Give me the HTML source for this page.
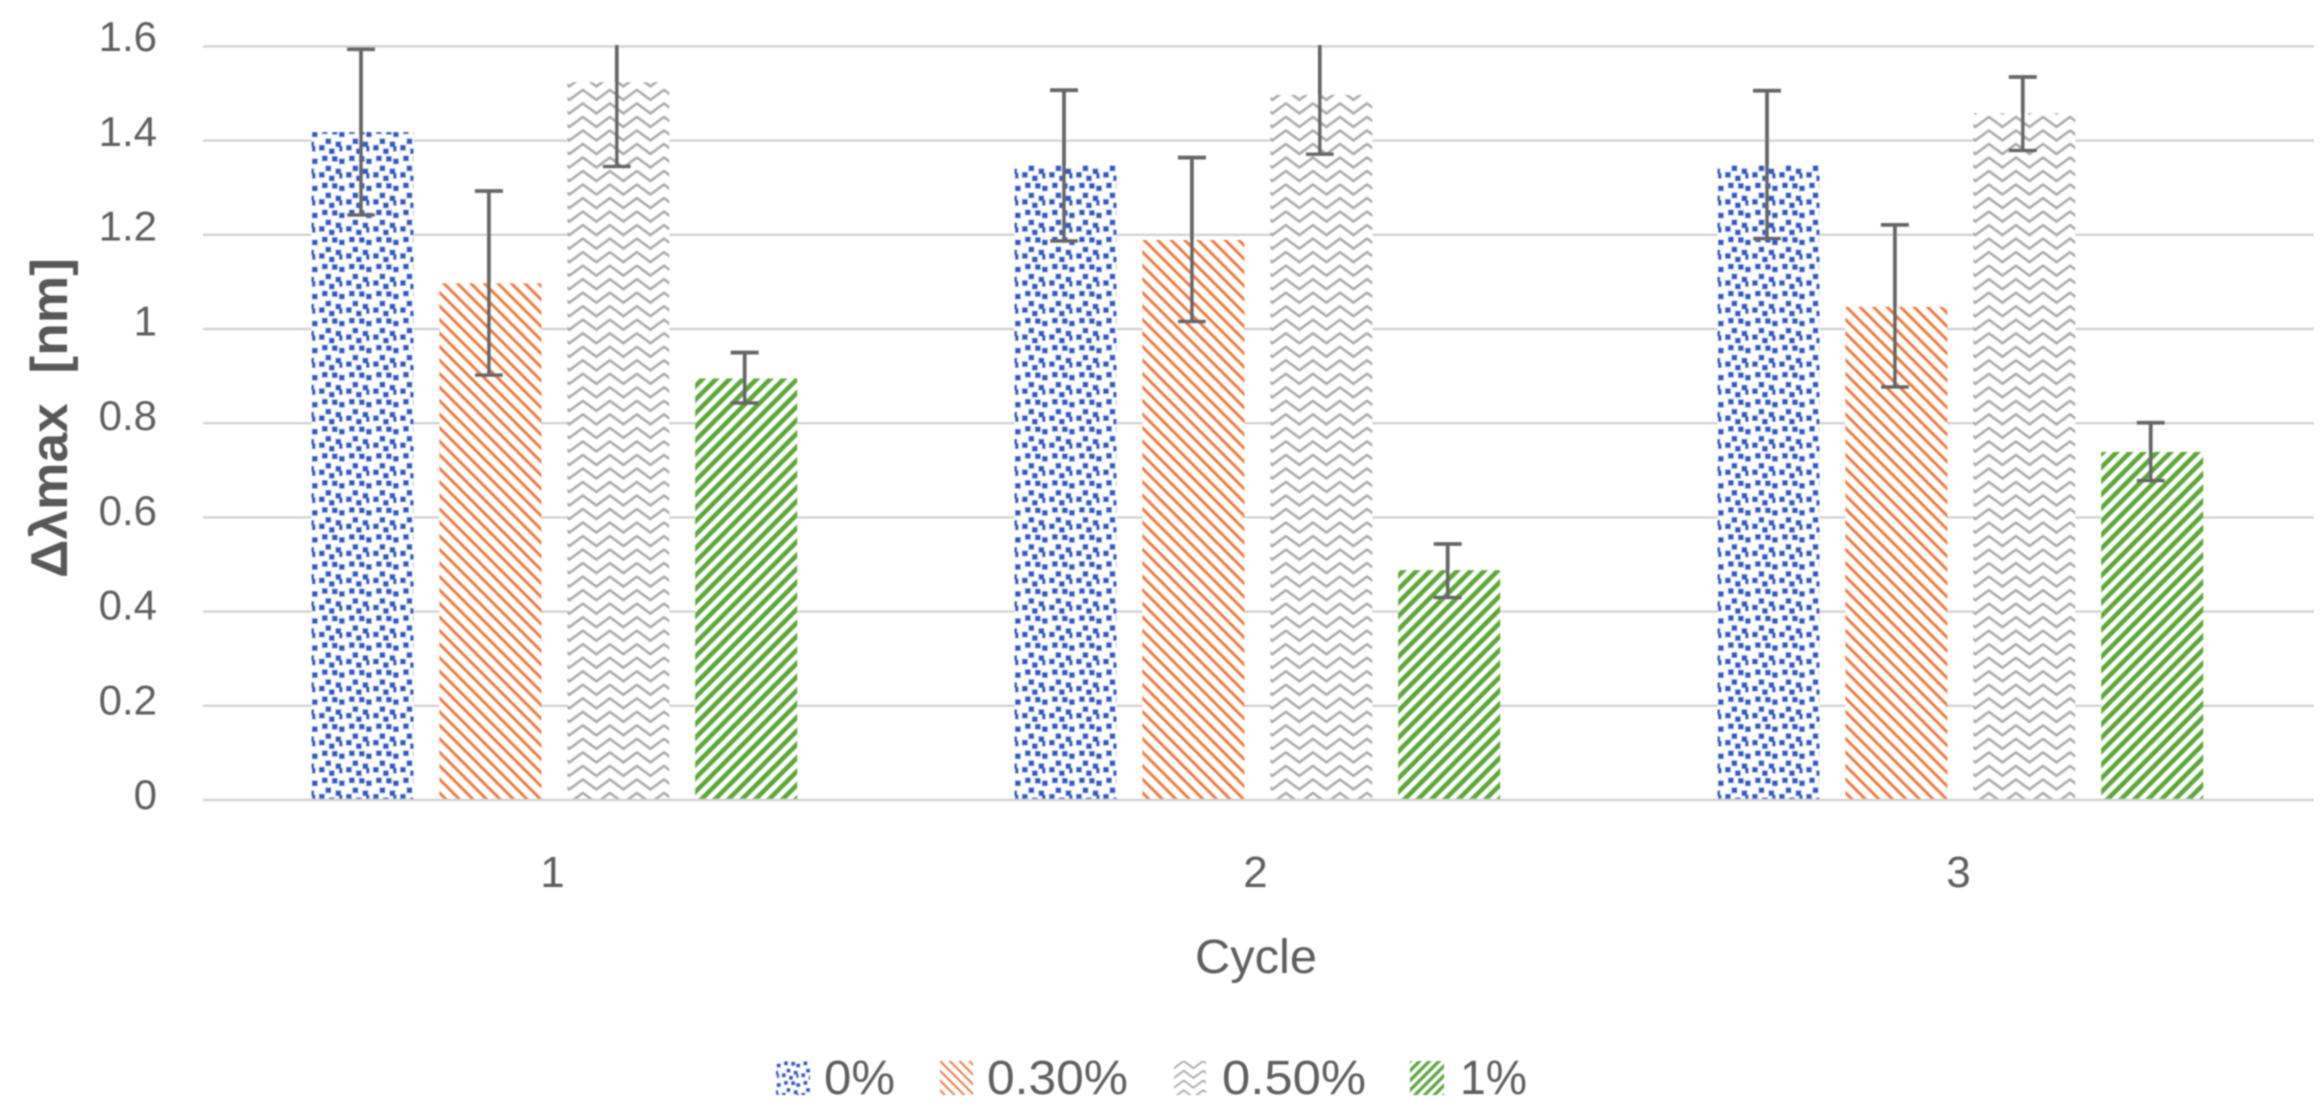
<!DOCTYPE html>
<html lang="en">
<head>
<meta charset="utf-8">
<title>Δλmax by cycle</title>
<style>
html,body{margin:0;padding:0;background:#fff;width:2324px;height:1120px;overflow:hidden}
svg{display:block}
text{font-family:"Liberation Sans",sans-serif;fill:#5f5f5f}
</style>
</head>
<body>
<svg id="chart" xmlns="http://www.w3.org/2000/svg" width="2324" height="1120" viewBox="0 0 2324 1120">
  <defs>
    <filter id="soft" x="0" y="0" width="100%" height="100%"><feGaussianBlur stdDeviation="0.8"/></filter>
    <clipPath id="plot-clip"><rect x="150" y="45" width="2174" height="800"/></clipPath>

    <pattern id="pat-blue" patternUnits="userSpaceOnUse" width="27.04" height="27.04" patternTransform="translate(311 128)">
      <rect width="27.04" height="27.04" fill="#fff"/>
      <g fill="#2a5cc6">
        <rect x="1" y="3.5" width="5.6" height="5.6"/>
        <rect x="11" y="0.5" width="5.6" height="5.6"/>
        <rect x="21" y="1" width="5.6" height="5.6"/>
        <rect x="14.5" y="10.5" width="5.6" height="5.6"/>
        <rect x="24.5" y="13.5" width="5.6" height="5.6"/>
        <rect x="-2.5" y="13.5" width="5.6" height="5.6"/>
        <rect x="8" y="17" width="5.6" height="5.6"/>
        <rect x="1" y="18" width="3.5" height="5.6"/>
        <rect x="18" y="20.5" width="5.6" height="5.6"/>
      </g>
    </pattern>
    <pattern id="pat-orange" patternUnits="userSpaceOnUse" width="13.52" height="13.52" patternTransform="translate(414 240)">
      <rect width="13.52" height="13.52" fill="#fff"/>
      <path d="M-2,-2 L15.52,15.52 M-2,11.52 L2,15.52 M11.52,-2 L15.52,2" stroke="#ed7d31" stroke-width="3.2" fill="none"/>
    </pattern>
    <pattern id="pat-gray" patternUnits="userSpaceOnUse" width="27.04" height="13.52" patternTransform="translate(1.48 8.8)">
      <rect width="27.04" height="13.52" fill="#fff"/>
      <g fill="none" stroke="#acacac" stroke-width="2.8" stroke-linejoin="round">
        <path d="M-3,12 L0,10 L13.52,0 L27.04,10 L30,12"/>
        <path transform="translate(0 -13.52)" d="M-3,12 L0,10 L13.52,0 L27.04,10 L30,12"/>
        <path transform="translate(0 13.52)" d="M-3,12 L0,10 L13.52,0 L27.04,10 L30,12"/>
      </g>
    </pattern>
    <pattern id="pat-green" patternUnits="userSpaceOnUse" width="13.52" height="13.52">
      <rect width="13.52" height="13.52" fill="#fff"/>
      <path d="M-2,15.52 L15.52,-2 M-2,2 L2,-2 M11.52,15.52 L15.52,11.52" stroke="#5aaa32" stroke-width="5" fill="none"/>
    </pattern>

    <pattern id="leg-blue" href="#pat-blue" patternTransform="translate(776 1061) scale(0.72)"/>
    <pattern id="leg-orange" href="#pat-orange" patternTransform="translate(940 1061) scale(0.72)"/>
    <pattern id="leg-gray" href="#pat-gray" patternTransform="translate(1174 1061) scale(0.72)"/>
    <pattern id="leg-green" href="#pat-green" patternTransform="translate(1410 1061) scale(0.72)"/>
  </defs>

  <g id="root" filter="url(#soft)">
    <g id="grid"></g>
    <g id="ylabels"></g>
    <g id="bars"></g>
    <line x1="203" x2="2314" y1="800" y2="800" stroke="#d2d2d2" stroke-width="2.6"/>
    <g id="errors" clip-path="url(#plot-clip)"></g>
    <g id="xlabels"></g>

    <text transform="translate(67 578) rotate(-90)" font-size="52" font-weight="bold" textLength="320" lengthAdjust="spacingAndGlyphs" style="white-space:pre;fill:#595959">Δλmax  [nm]</text>
    <text x="1195" y="973" font-size="48" textLength="122" lengthAdjust="spacingAndGlyphs">Cycle</text>

    <g>
      <g>
        <rect x="776" y="1061" width="34" height="34" fill="url(#leg-blue)"/>
        <text x="824" y="1094" font-size="48" textLength="71" lengthAdjust="spacingAndGlyphs">0%</text>
      </g>
      <g>
        <rect x="940" y="1061" width="33" height="34" fill="url(#leg-orange)"/>
        <text x="987" y="1094" font-size="48" textLength="141" lengthAdjust="spacingAndGlyphs">0.30%</text>
      </g>
      <g>
        <rect x="1174" y="1061" width="32" height="34" fill="url(#leg-gray)"/>
        <text x="1222" y="1094" font-size="48" textLength="144" lengthAdjust="spacingAndGlyphs">0.50%</text>
      </g>
      <g>
        <rect x="1410" y="1061" width="34" height="34" fill="url(#leg-green)"/>
        <text x="1460" y="1094" font-size="48" textLength="67" lengthAdjust="spacingAndGlyphs">1%</text>
      </g>
    </g>
  </g>
</svg>

<script>
const categories = ['1', '2', '3'];
const seriesNames = ['0%', '0.30%', '0.50%', '1%'];
const yTicks = [0, 0.2, 0.4, 0.6, 0.8, 1, 1.2, 1.4, 1.6];
const yTickLabels = ['0', '0.2', '0.4', '0.6', '0.8', '1', '1.2', '1.4', '1.6'];

const values0 = [1.418, 1.347, 1.347];
const values030 = [1.097, 1.189, 1.047];
const values050 = [1.524, 1.497, 1.458];
const values1 = [0.895, 0.488, 0.739];

const upper0 = [1.594, 1.507, 1.506];
const upper030 = [1.293, 1.364, 1.221];
const upper050 = [1.695, 1.623, 1.535];
const upper1 = [0.950, 0.5435, 0.801];

const lower0 = [1.242, 1.187, 1.192];
const lower030 = [0.902, 1.016, 0.877];
const lower050 = [1.345, 1.371, 1.379];
const lower1 = [0.843, 0.430, 0.678];

const NS = 'http://www.w3.org/2000/svg';
const plotLeft = 203, plotRight = 2314, yZero = 800, yPerUnit = 471;
const groupWidth = (plotRight - plotLeft - 2) / categories.length;
const barWidth = 102, barStep = 127.9, firstBarOffset = 108.5;
const fills = ['url(#pat-blue)', 'url(#pat-orange)', 'url(#pat-gray)', 'url(#pat-green)'];
const allValues = [values0, values030, values050, values1];
const allUpper = [upper0, upper030, upper050, upper1];
const allLower = [lower0, lower030, lower050, lower1];

function yScale(v) { return yZero - yPerUnit * v; }
function yLabelBaseline(v) { return 809 - 473.75 * v; }
function groupLeft(i) { return plotLeft + groupWidth * i; }
function barX(cat, s) { return groupLeft(cat) + firstBarOffset + barStep * s; }
function make(tag) { return document.createElementNS(NS, tag); }

const grid = document.getElementById('grid');
const ylabels = document.getElementById('ylabels');
const xlabels = document.getElementById('xlabels');
const bars = document.getElementById('bars');
const errors = document.getElementById('errors');

yTicks.forEach(function (v, i) {
  if (v !== 0) {
    const ln = make('line');
    
    
    ln.setAttribute('x1', plotLeft);
    ln.setAttribute('x2', plotRight);
    ln.setAttribute('y1', yScale(v));
    ln.setAttribute('y2', yScale(v));
    ln.setAttribute('stroke', '#d2d2d2');
    ln.setAttribute('stroke-width', '2.4');
    grid.appendChild(ln);
  }
  const t = make('text');
  
  
  t.setAttribute('x', 157);
  t.setAttribute('y', yLabelBaseline(v));
  t.setAttribute('font-size', '42');
  t.setAttribute('text-anchor', 'end');
  t.textContent = yTickLabels[i];
  ylabels.appendChild(t);
});

categories.forEach(function (c, i) {
  const t = make('text');
  
  
  t.setAttribute('x', groupLeft(i) + groupWidth / 2 - 2);
  t.setAttribute('y', 887);
  t.setAttribute('font-size', '44');
  t.setAttribute('text-anchor', 'middle');
  t.textContent = c;
  xlabels.appendChild(t);
});

seriesNames.forEach(function (name, s) {
  categories.forEach(function (c, i) {
    const x = barX(i, s);
    const top = yScale(allValues[s][i]);

    const r = make('rect');
    
    
    r.setAttribute('x', x);
    r.setAttribute('y', top);
    r.setAttribute('width', barWidth);
    r.setAttribute('height', yZero - top);
    r.setAttribute('fill', fills[s]);
    bars.appendChild(r);

    const cx = x + barWidth / 2 - 1.5;
    const yU = yScale(allUpper[s][i]);
    const yL = yScale(allLower[s][i]);

    const stem = make('line');
    
    
    stem.setAttribute('x1', cx);
    stem.setAttribute('x2', cx);
    stem.setAttribute('y1', yU);
    stem.setAttribute('y2', yL);
    stem.setAttribute('stroke', '#666666');
    stem.setAttribute('stroke-width', '3.8');
    errors.appendChild(stem);

    const capTop = make('line');
    
    
    capTop.setAttribute('x1', cx - 14);
    capTop.setAttribute('x2', cx + 14);
    capTop.setAttribute('y1', yU);
    capTop.setAttribute('y2', yU);
    capTop.setAttribute('stroke', '#666666');
    capTop.setAttribute('stroke-width', '3.8');
    errors.appendChild(capTop);

    const capBottom = make('line');
    
    
    capBottom.setAttribute('x1', cx - 14);
    capBottom.setAttribute('x2', cx + 14);
    capBottom.setAttribute('y1', yL);
    capBottom.setAttribute('y2', yL);
    capBottom.setAttribute('stroke', '#666666');
    capBottom.setAttribute('stroke-width', '3.8');
    errors.appendChild(capBottom);
  });
});
</script>
</body>
</html>
